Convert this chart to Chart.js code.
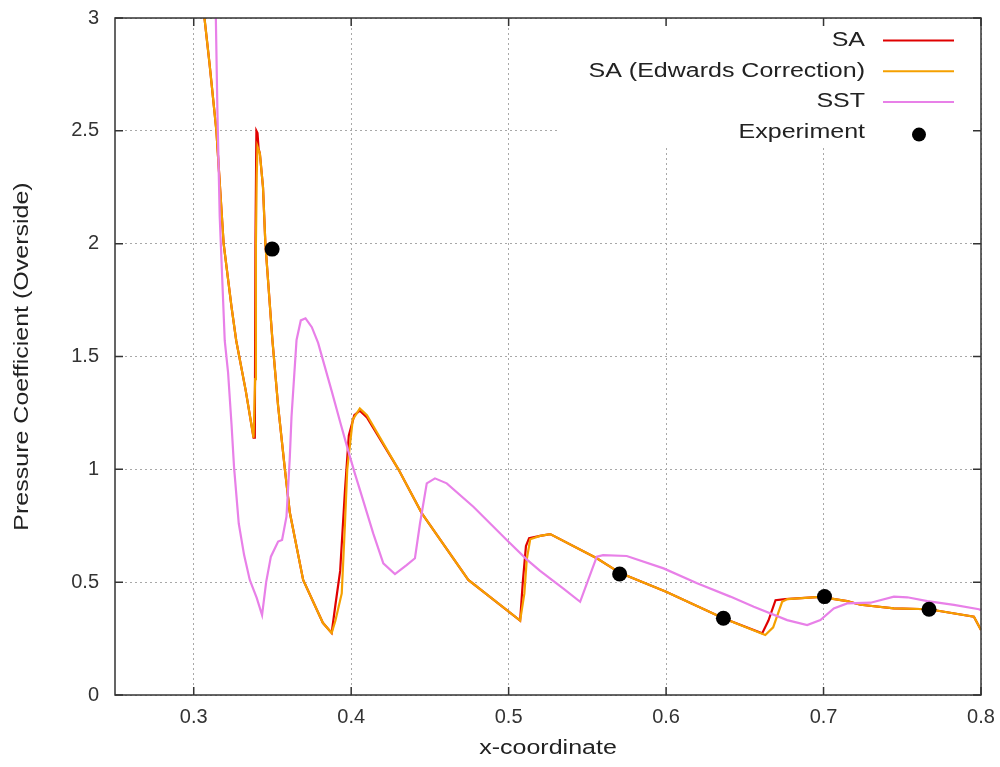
<!DOCTYPE html>
<html>
<head>
<meta charset="utf-8">
<title>Pressure Coefficient (Overside)</title>
<script src="https://cdn.jsdelivr.net/npm/chart.js@4.4.1/dist/chart.umd.min.js"></script>
<style>
  body { margin: 0; background: #fff; }
  canvas { display: block; }
</style>
</head>
<body>
<canvas id="cpChart" width="1000" height="767"></canvas>
<script>
// values
const saX = [0.3065, 0.3100, 0.3144, 0.3190, 0.3240, 0.3270, 0.3330, 0.3380, 0.3388, 0.3392, 0.3398, 0.3405, 0.3412, 0.3420,
  0.3440, 0.3455, 0.3500, 0.3536, 0.3579, 0.3610, 0.3695, 0.3820, 0.3876, 0.3900, 0.3930, 0.3960, 0.3985, 0.4020, 0.4055,
  0.4100, 0.4300, 0.4448, 0.4744, 0.5073, 0.5090, 0.5110, 0.5130, 0.5200, 0.5264, 0.5560, 0.5709, 0.6000, 0.6364, 0.6610,
  0.6650, 0.6695, 0.6757, 0.6980, 0.7150, 0.7235, 0.7447, 0.7670, 0.7955, 0.8000];
const saY = [3.02, 2.80, 2.50, 2.00, 1.72, 1.57, 1.35, 1.14, 1.14, 2.00, 2.50, 2.49, 2.42, 2.40,
  2.25, 2.00, 1.57, 1.28, 1.00, 0.81, 0.51, 0.32, 0.275, 0.40, 0.55, 0.90, 1.15, 1.24, 1.26,
  1.23, 1.00, 0.806, 0.51, 0.33, 0.50, 0.66, 0.695, 0.705, 0.713, 0.606, 0.54, 0.458, 0.34, 0.273,
  0.33, 0.42, 0.425, 0.435, 0.416, 0.40, 0.384, 0.38, 0.347, 0.288];

const edX = [0.3065, 0.3100, 0.3144, 0.3190, 0.3240, 0.3270, 0.3330, 0.3380, 0.3390, 0.3395, 0.3400, 0.3405, 0.3420, 0.3440,
  0.3455, 0.3500, 0.3536, 0.3579, 0.3610, 0.3695, 0.3820, 0.3876, 0.3900, 0.3940, 0.3960, 0.3975, 0.4010, 0.4055, 0.4100,
  0.4300, 0.4448, 0.4744, 0.5073, 0.5100, 0.5115, 0.5137, 0.5200, 0.5264, 0.5560, 0.5709, 0.6000, 0.6364, 0.6630, 0.6680,
  0.6737, 0.6770, 0.6980, 0.7150, 0.7235, 0.7447, 0.7670, 0.7955, 0.8000];
const edY = [3.02, 2.80, 2.50, 2.00, 1.72, 1.57, 1.35, 1.14, 1.40, 2.00, 2.30, 2.43, 2.40, 2.25,
  2.00, 1.57, 1.28, 1.00, 0.81, 0.51, 0.32, 0.275, 0.33, 0.45, 0.75, 1.00, 1.22, 1.27, 1.24,
  1.00, 0.806, 0.51, 0.33, 0.45, 0.60, 0.69, 0.705, 0.713, 0.606, 0.54, 0.458, 0.34, 0.266, 0.30,
  0.413, 0.425, 0.435, 0.416, 0.40, 0.384, 0.38, 0.347, 0.288];

const sstX = [0.3140, 0.3150, 0.3165, 0.3197, 0.3218, 0.3240, 0.3256, 0.3286, 0.3320, 0.3356, 0.3400, 0.3434, 0.3460, 0.3490,
  0.3536, 0.3561, 0.3589, 0.3610, 0.3621, 0.3653, 0.3680, 0.3710, 0.3750, 0.3790, 0.3875, 0.3930, 0.3980, 0.4024, 0.4056,
  0.4140, 0.4204, 0.4278, 0.4352, 0.4405, 0.4437, 0.4480, 0.4532, 0.4607, 0.4776, 0.4988, 0.5116, 0.5200, 0.5350, 0.5454,
  0.5500, 0.5560, 0.5600, 0.5750, 0.5984, 0.6197, 0.6408, 0.6557, 0.6769, 0.6896, 0.6980, 0.7065, 0.7150, 0.7299, 0.7447,
  0.7532, 0.7660, 0.7828, 0.7987, 0.8000];
const sstY = [3.02, 2.60, 2.12, 1.57, 1.43, 1.20, 1.01, 0.76, 0.62, 0.51, 0.43, 0.354, 0.50, 0.613,
  0.68, 0.687, 0.79, 1.05, 1.233, 1.573, 1.66, 1.669, 1.63, 1.56, 1.35, 1.21, 1.085, 0.98, 0.908,
  0.716, 0.583, 0.536, 0.576, 0.606, 0.76, 0.938, 0.96, 0.938, 0.834, 0.687, 0.60, 0.55, 0.47, 0.413,
  0.50, 0.613, 0.62, 0.616, 0.561, 0.495, 0.436, 0.391, 0.332, 0.31, 0.332, 0.384, 0.406, 0.409, 0.436,
  0.433, 0.416, 0.399, 0.38, 0.375];

const expX = [0.3498, 0.5705, 0.6364, 0.7006, 0.7670];
const expY = [1.976, 0.536, 0.340, 0.436, 0.380];

const xTicks = [0.3, 0.4, 0.5, 0.6, 0.7, 0.8];
const yTicks = [0, 0.5, 1, 1.5, 2, 2.5, 3];

const FONT = '"Liberation Sans", Arial, sans-serif';
const STRETCH = 1.25; // reference text is drawn wide

function toPoints(xs, ys) {
    return xs.map((x, i) => ({ x: x, y: ys[i] }));
}

function wideText(ctx, text, x, y, align, angle) {
    ctx.save();
    ctx.translate(x, y);
    if (angle) ctx.rotate(angle);
    ctx.scale(STRETCH, 1);
    ctx.textAlign = align;
    ctx.textBaseline = 'middle';
    ctx.fillText(text, 0, 0);
    ctx.restore();
}

// border, inward ticks, axis titles and key, gnuplot style
const framePlugin = {
    id: 'frame',
    beforeDatasetsDraw(chart) {
        const ctx = chart.ctx;
        ctx.save();
        ctx.fillStyle = '#fff';
        ctx.fillRect(560, 20, 418, 126);
        ctx.restore();
    },
    afterDraw(chart) {
        const ctx = chart.ctx;
        const area = chart.chartArea;
        const xs = chart.scales.x;
        const ys = chart.scales.y;

        ctx.save();
        ctx.strokeStyle = '#333';
        ctx.lineWidth = 1.5;
        ctx.strokeRect(area.left, area.top, area.right - area.left, area.bottom - area.top);

        ctx.beginPath();
        xTicks.forEach(v => {
            const px = xs.getPixelForValue(v);
            ctx.moveTo(px, area.bottom); ctx.lineTo(px, area.bottom - 8);
            ctx.moveTo(px, area.top); ctx.lineTo(px, area.top + 8);
        });
        yTicks.forEach(v => {
            const py = ys.getPixelForValue(v);
            ctx.moveTo(area.left, py); ctx.lineTo(area.left + 8, py);
            ctx.moveTo(area.right, py); ctx.lineTo(area.right - 8, py);
        });
        ctx.stroke();

        // axis titles
        ctx.fillStyle = '#222';
        ctx.font = '20px ' + FONT;
        wideText(ctx, 'x-coordinate', (area.left + area.right) / 2, 748, 'center', 0);
        wideText(ctx, 'Pressure Coefficient (Overside)', 22, (area.top + area.bottom) / 2, 'center', -Math.PI / 2);

        // key
        chart.data.datasets.forEach((ds, i) => {
            const cy = 40.5 + i * 30.7;
            ctx.fillStyle = '#222';
            wideText(ctx, ds.label, 865, cy, 'right', 0);
            if (ds.showLine === false) {
                ctx.fillStyle = ds.backgroundColor;
                ctx.beginPath();
                ctx.arc(919, cy + 2, 7, 0, Math.PI * 2);
                ctx.fill();
            } else {
                ctx.strokeStyle = ds.borderColor;
                ctx.lineWidth = 2;
                ctx.beginPath();
                ctx.moveTo(883, cy);
                ctx.lineTo(954, cy);
                ctx.stroke();
            }
        });
        ctx.restore();
    }
};

const gridOpts = { color: '#a8a8a8', lineWidth: 1, drawTicks: false };
const tickFont = { family: FONT, size: 20 };

const chart = new Chart(document.getElementById('cpChart'), {
    type: 'line',
    data: {
        datasets: [
            { label: 'SA', data: toPoints(saX, saY), borderColor: '#e00000', backgroundColor: '#e00000',
              borderWidth: 2.2, pointRadius: 0, tension: 0, order: 4 },
            { label: 'SA (Edwards Correction)', data: toPoints(edX, edY), borderColor: '#f5a000', backgroundColor: '#f5a000',
              borderWidth: 2.2, pointRadius: 0, tension: 0, order: 3 },
            { label: 'SST', data: toPoints(sstX, sstY), borderColor: '#e880e8', backgroundColor: '#e880e8',
              borderWidth: 2.2, pointRadius: 0, tension: 0, order: 2 },
            { label: 'Experiment', data: toPoints(expX, expY), showLine: false, backgroundColor: '#000', borderColor: '#000',
              pointRadius: 7.5, pointBorderWidth: 0, order: 1 }
        ]
    },
    options: {
        responsive: false,
        animation: false,
        layout: { padding: { top: 18, right: 19, left: 0, bottom: 0 } },
        plugins: { legend: { display: false }, tooltip: { enabled: false } },
        scales: {
            x: {
                type: 'linear',
                min: 0.25,
                max: 0.8,
                afterBuildTicks: s => { s.ticks = xTicks.map(v => ({ value: v })); },
                afterFit: s => { s.height = 72; s.paddingLeft = 0; s.paddingRight = 0; },
                grid: gridOpts,
                border: { display: false, dash: [2, 3] },
                ticks: { font: tickFont, color: '#333', padding: 10, maxRotation: 0, callback: v => String(v) }
            },
            y: {
                type: 'linear',
                min: 0,
                max: 3,
                afterBuildTicks: s => { s.ticks = yTicks.map(v => ({ value: v })); },
                afterFit: s => { s.width = 115; s.paddingTop = 0; s.paddingBottom = 0; },
                grid: gridOpts,
                border: { display: false, dash: [2, 3] },
                ticks: { font: tickFont, color: '#333', padding: 16, callback: v => String(v) }
            }
        }
    },
    plugins: [framePlugin]
});
</script>
</body>
</html>
